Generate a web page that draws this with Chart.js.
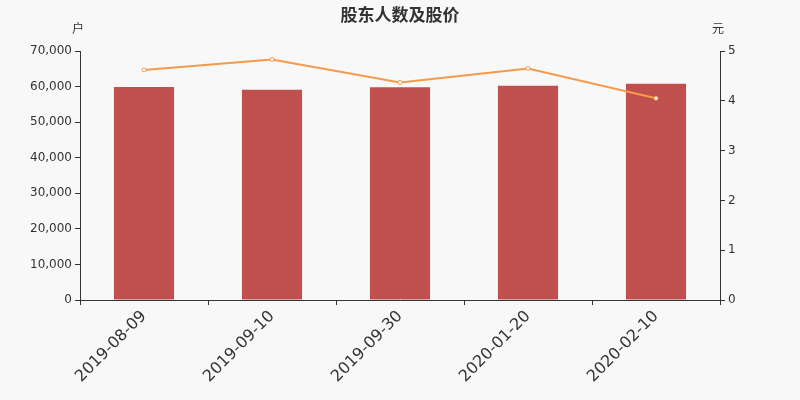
<!DOCTYPE html>
<html>
<head>
<meta charset="utf-8">
<script src="https://cdn.jsdelivr.net/npm/chart.js@4"></script>
<style>
  html, body { margin: 0; padding: 0; background: #f8f8f8; }
  #wrap { width: 800px; height: 400px; }
</style>
</head>
<body>
<div id="wrap"><canvas id="holderChart"></canvas></div>
<script>
const dates = ['2019-08-09', '2019-09-10', '2019-09-30', '2020-01-20', '2020-02-10'];
const holders = [59900, 59100, 59800, 60200, 60800];
const prices = [4.62, 4.83, 4.37, 4.65, 4.05];

const font = "'DejaVu Sans', sans-serif";
const cjk = "'Noto Sans CJK SC', sans-serif";

// unit labels above the two y axes
const unitLabels = {
  id: 'unitLabels',
  afterDraw(chart) {
    const c = chart.ctx;
    c.save();
    c.font = '12px ' + cjk;
    c.fillStyle = '#333';
    c.textAlign = 'center';
    c.textBaseline = 'middle';
    c.fillText('户', chart.chartArea.left - 2, 28);
    c.fillText('元', chart.chartArea.right - 2, 28);
    c.restore();
  }
};

new Chart(document.getElementById('holderChart'), {
  type: 'bar',
  data: {
    labels: dates,
    datasets: [{
      type: 'line',
      label: '股价',
      data: prices,
      yAxisID: 'y1',
      borderColor: '#f59a4a',
      borderWidth: 2,
      pointRadius: 2,
      pointBackgroundColor: '#ffffff',
      pointBorderColor: '#f59a4a',
      pointBorderWidth: 1,
      tension: 0,
      order: 0
    }, {
      label: '股东人数',
      data: holders,
      yAxisID: 'y',
      backgroundColor: '#c0504d',
      categoryPercentage: 1,
      barPercentage: 0.47,
      order: 1
    }]
  },
  options: {
    responsive: true,
    maintainAspectRatio: false,
    animation: false,
    layout: { padding: 0 },
    plugins: {
      legend: { display: false },
      tooltip: { enabled: false },
      title: {
        display: true,
        text: '股东人数及股价',
        color: '#333',
        font: { family: cjk, size: 17, weight: 'bold' },
        padding: { top: 4, bottom: 26.6 }
      }
    },
    scales: {
      x: {
        offset: true,
        afterFit: s => { s.height = 100; },
        grid: { offset: true, drawOnChartArea: false, color: '#333', tickLength: 5 },
        border: { color: '#333' },
        ticks: {
          color: '#333',
          font: { family: font, size: 16 },
          maxRotation: 45,
          minRotation: 45,
          padding: 2
        }
      },
      y: {
        position: 'left',
        min: 0,
        max: 70000,
        afterFit: s => { s.width = 80; },
        grid: { drawOnChartArea: false, color: '#333', tickLength: 5 },
        border: { color: '#333' },
        ticks: {
          stepSize: 10000,
          color: '#333',
          padding: 3,
          font: { family: font, size: 12 },
          callback: v => v.toLocaleString('en-US')
        }
      },
      y1: {
        position: 'right',
        min: 0,
        max: 5,
        afterFit: s => { s.width = 80; },
        grid: { drawOnChartArea: false, color: '#333', tickLength: 5 },
        border: { color: '#333' },
        ticks: {
          stepSize: 1,
          color: '#333',
          padding: 3,
          font: { family: font, size: 12 }
        }
      }
    }
  },
  plugins: [unitLabels]
});
</script>
</body>
</html>
